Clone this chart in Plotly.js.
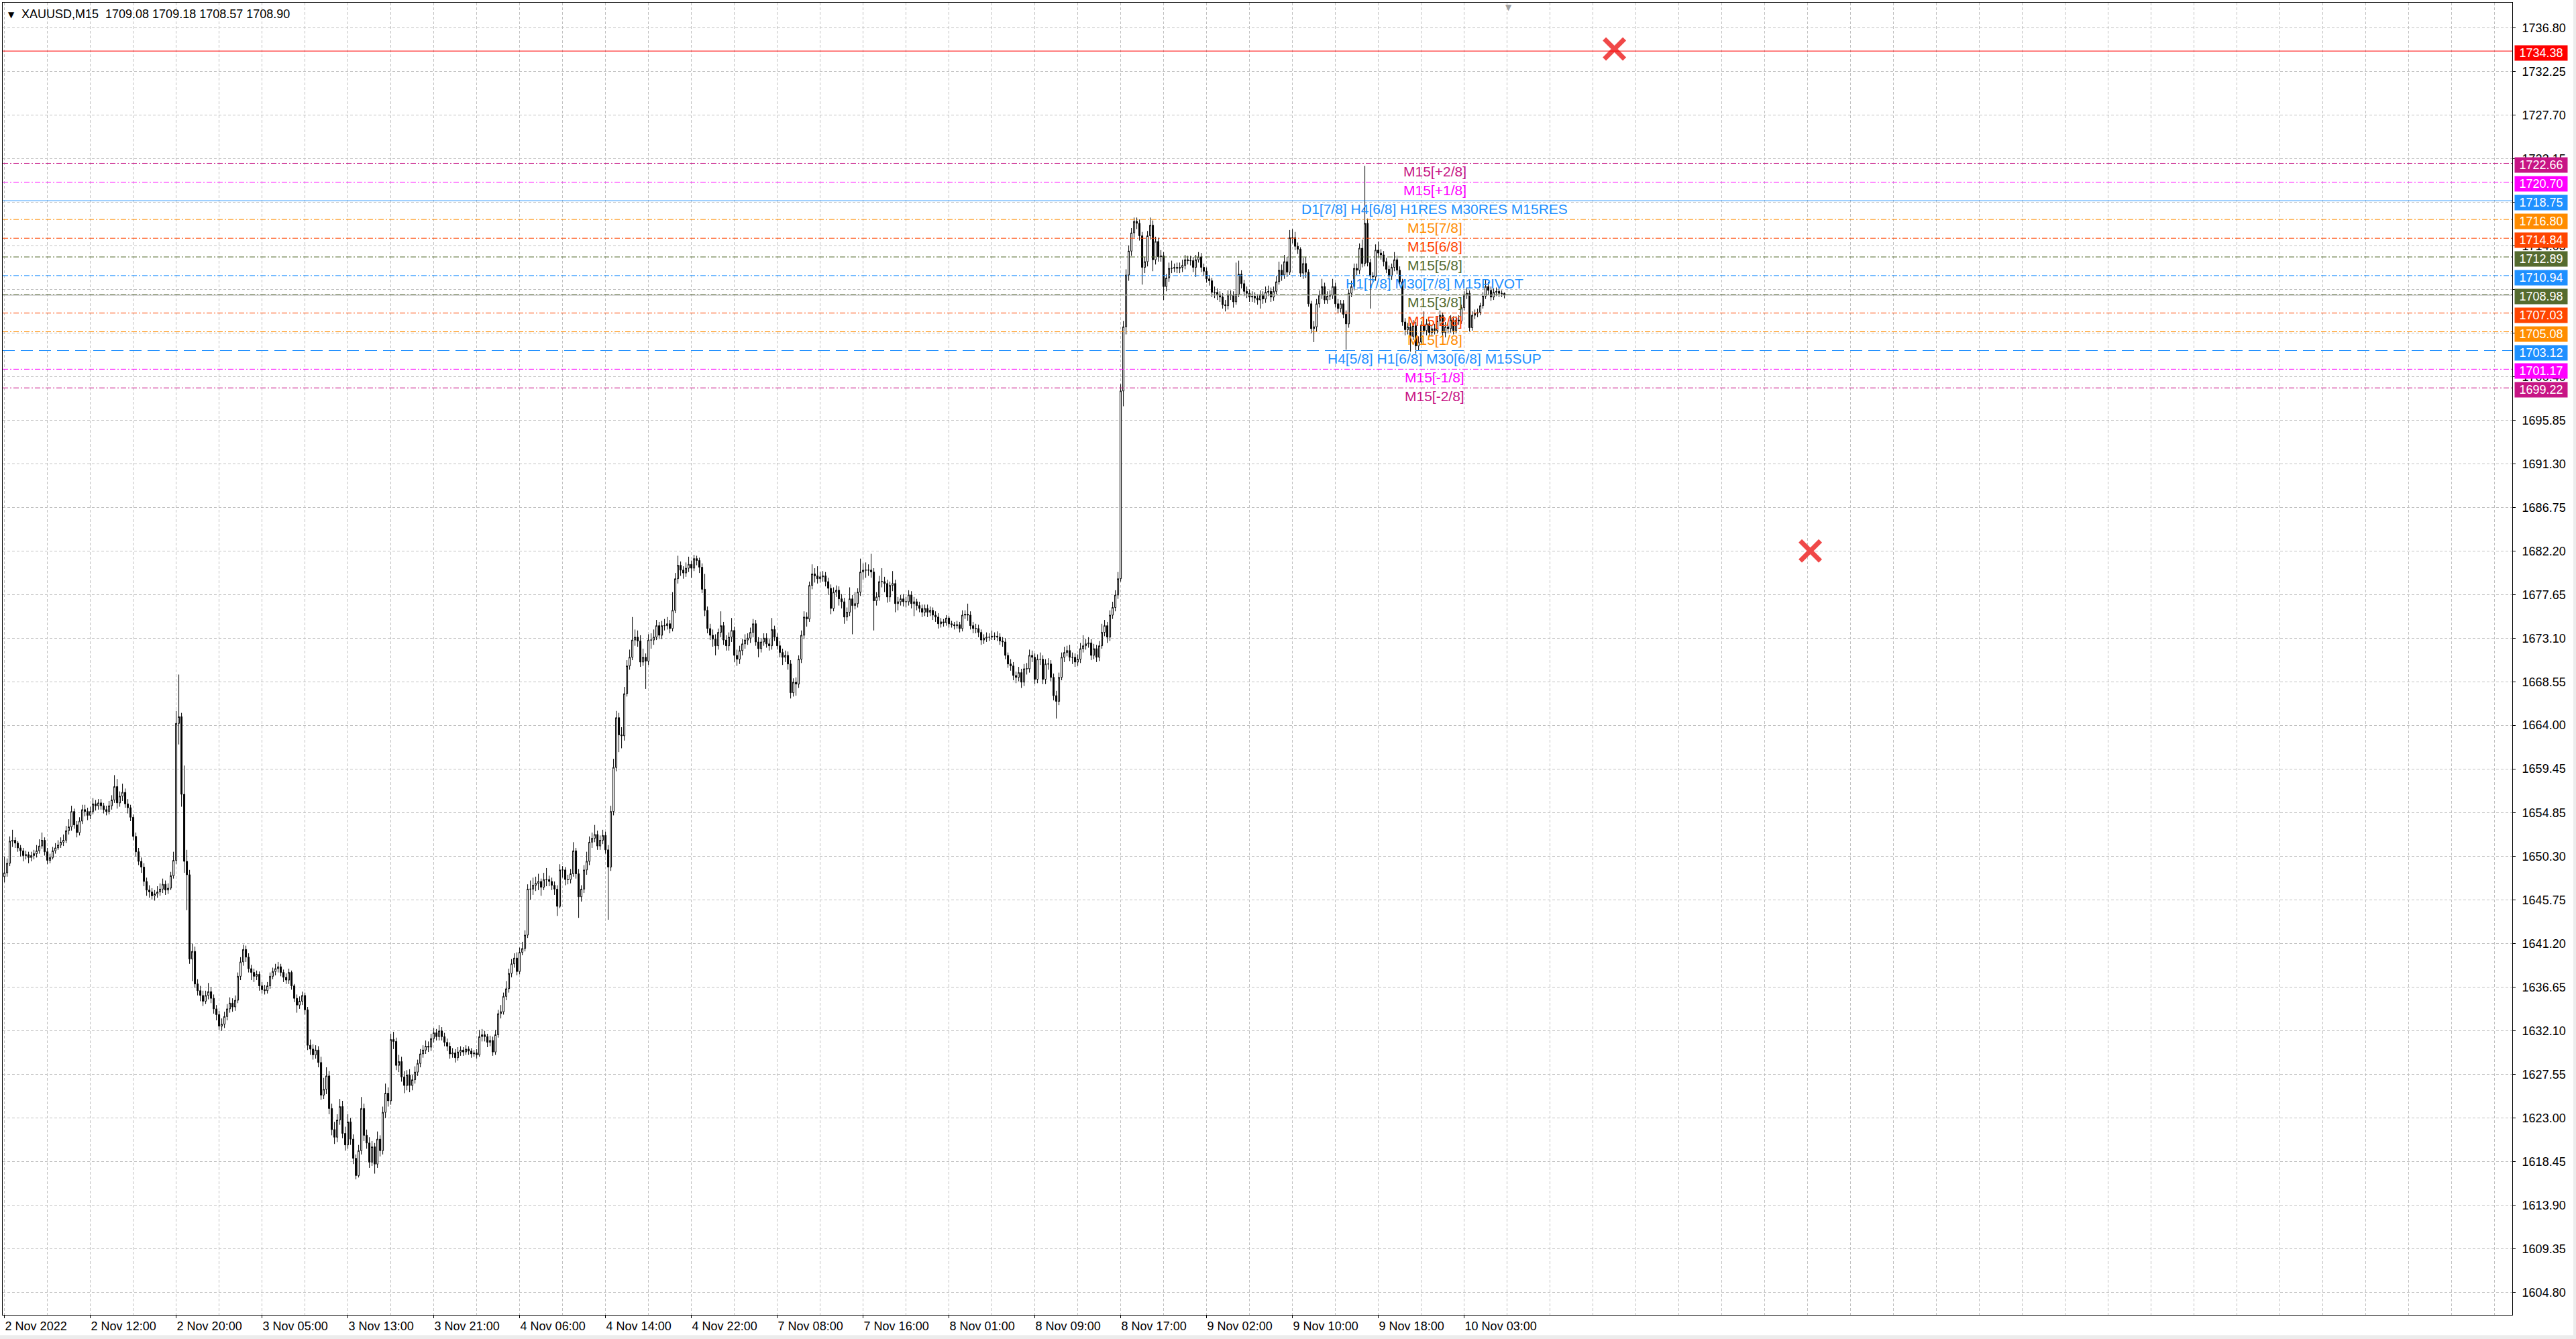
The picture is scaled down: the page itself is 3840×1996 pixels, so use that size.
<!DOCTYPE html>
<html><head><meta charset="utf-8">
<script src="https://cdn.plot.ly/plotly-3.0.1.min.js"></script>
<style>html,body{margin:0;padding:0;background:#fff;}#chart{width:3840px;height:1996px;}</style>
</head><body><div id="chart"></div>
<script>
const barOpen = [
1648.2,1648.6,1649.6,1651.9,1652.0,1651.7,1651.2,1650.9,1650.4,1650.5,
1650.2,1650.4,1650.6,1650.9,1651.4,1652.0,1650.8,1649.9,1650.2,1650.9,
1651.2,1651.5,1651.8,1652.0,1653.0,1653.4,1655.0,1653.6,1652.8,1654.0,
1655.2,1655.0,1654.6,1655.0,1655.8,1655.6,1655.9,1655.6,1655.2,1655.0,
1655.6,1656.2,1657.6,1655.9,1656.6,1657.0,1655.8,1655.4,1654.4,1652.4,
1650.8,1649.8,1649.2,1647.7,1646.8,1646.6,1646.2,1646.4,1646.6,1646.9,
1647.4,1646.8,1647.0,1648.3,1649.9,1664.2,1664.9,1656.8,1649.8,1648.4,
1639.6,1640.4,1637.0,1636.3,1635.8,1635.2,1635.8,1636.2,1635.5,1634.4,
1633.8,1632.6,1632.8,1633.6,1634.4,1635.0,1634.6,1635.3,1637.8,1639.3,
1640.6,1639.8,1638.6,1638.2,1637.8,1638.0,1636.8,1636.4,1636.3,1636.8,
1637.8,1638.3,1638.6,1638.8,1638.2,1637.7,1637.4,1638.2,1636.8,1635.5,
1634.8,1635.2,1635.8,1634.3,1630.6,1630.2,1629.6,1630.1,1628.8,1625.4,
1626.0,1627.4,1624.0,1621.8,1621.0,1622.8,1624.2,1621.4,1620.2,1622.6,
1620.8,1618.8,1617.0,1619.6,1624.0,1621.2,1620.4,1618.4,1620.0,1618.2,
1620.8,1619.6,1623.6,1625.6,1624.8,1631.2,1631.0,1628.5,1628.9,1627.3,
1626.4,1627.5,1626.4,1627.0,1627.8,1628.7,1629.7,1630.1,1630.5,1630.4,
1631.3,1631.9,1631.5,1632.1,1631.5,1630.9,1630.5,1629.7,1629.8,1629.3,
1629.9,1630.1,1629.9,1630.2,1630.0,1629.7,1629.8,1629.6,1631.5,1631.7,
1631.5,1630.9,1631.1,1629.9,1631.7,1633.9,1634.1,1635.7,1636.5,1638.1,
1639.1,1639.7,1638.3,1640.3,1640.7,1642.1,1646.9,1646.9,1647.3,1647.5,
1647.7,1647.1,1647.9,1647.9,1647.7,1647.3,1646.9,1645.1,1648.9,1648.9,
1647.9,1647.9,1648.5,1650.9,1648.5,1646.1,1646.9,1648.9,1649.8,1651.8,
1652.2,1652.6,1651.4,1652.0,1652.5,1651.0,1649.2,1655.0,1659.6,1664.8,
1663.0,1662.9,1667.3,1670.2,1671.1,1672.9,1673.2,1672.8,1670.6,1671.1,
1670.7,1672.9,1672.9,1673.2,1674.4,1673.4,1674.4,1674.4,1674.6,1674.1,
1676.0,1679.3,1680.7,1680.2,1679.9,1680.4,1680.8,1680.4,1681.4,1681.2,
1680.5,1678.2,1676.0,1674.1,1673.4,1673.0,1672.3,1673.7,1674.4,1672.9,
1672.3,1673.2,1673.9,1671.3,1670.9,1671.8,1672.5,1672.9,1673.1,1673.7,
1674.6,1672.7,1672.0,1672.7,1673.1,1672.5,1672.3,1674.0,1673.2,1672.3,
1671.6,1671.1,1671.3,1670.4,1667.4,1668.5,1668.3,1670.9,1673.4,1675.3,
1675.1,1678.6,1679.8,1679.6,1679.3,1679.5,1679.6,1679.0,1678.3,1676.2,
1677.9,1678.1,1677.2,1676.9,1675.3,1675.8,1677.2,1676.5,1676.7,1677.9,
1680.0,1680.2,1680.2,1680.2,1680.0,1677.0,1677.4,1679.0,1679.0,1678.8,
1677.4,1678.6,1678.8,1676.7,1676.9,1677.2,1676.9,1676.9,1677.6,1676.7,
1676.9,1676.5,1676.2,1675.8,1676.2,1675.8,1676.0,1675.5,1675.3,1674.6,
1674.8,1674.7,1675.2,1674.6,1674.5,1674.4,1674.5,1674.1,1675.5,1675.6,
1675.5,1674.4,1674.1,1674.1,1673.7,1672.9,1673.1,1673.2,1673.2,1673.3,
1673.3,1673.2,1672.8,1672.7,1671.3,1670.4,1670.2,1669.2,1669.0,1669.5,
1668.5,1669.9,1669.9,1671.3,1671.1,1668.8,1670.9,1670.9,1668.8,1670.4,
1670.4,1669.0,1667.1,1666.5,1669.0,1671.1,1671.6,1671.8,1671.1,1671.1,
1670.6,1670.9,1672.0,1672.3,1672.5,1672.6,1671.3,1672.0,1671.1,1672.3,
1673.7,1674.4,1673.2,1675.5,1676.3,1677.6,1679.3,1698.9,1705.6,1711.0,
1713.5,1715.4,1716.6,1716.4,1715.1,1711.8,1712.4,1715.1,1716.2,1712.6,
1714.5,1712.9,1713.0,1709.8,1710.7,1711.7,1711.7,1711.8,1711.7,1711.8,
1712.0,1712.6,1712.5,1712.5,1711.8,1712.6,1712.9,1711.8,1711.4,1710.6,
1710.4,1709.2,1709.2,1708.9,1708.7,1707.9,1707.8,1708.9,1708.9,1708.2,
1709.0,1711.1,1710.1,1709.3,1709.1,1708.7,1708.8,1708.6,1708.4,1708.9,
1708.5,1709.2,1709.3,1708.7,1709.3,1710.3,1711.5,1711.0,1712.4,1711.3,
1714.9,1714.9,1714.0,1713.7,1711.2,1712.2,1711.3,1708.0,1705.4,1705.6,
1708.0,1708.9,1709.8,1708.4,1708.8,1708.9,1709.8,1708.0,1707.5,1708.0,
1706.9,1705.9,1709.1,1709.8,1711.7,1711.5,1713.8,1712.2,1716.4,1712.3,
1710.9,1710.8,1713.6,1713.3,1713.1,1712.4,1711.6,1710.9,1711.8,1712.6,
1711.5,1710.3,1706.1,1705.3,1705.6,1704.6,1705.7,1703.6,1704.0,1705.8,
1705.2,1705.9,1705.0,1705.4,1705.2,1706.2,1706.8,1705.0,1705.6,1705.4,
1706.3,1705.2,1706.3,1706.2,1707.6,1708.9,1709.1,1705.5,1706.8,1707.0,
1707.1,1707.8,1708.8,1709.8,1709.4,1708.7,1709.2,1709.3,1709.1,1709.08
];
const barHigh = [
1650.3,1650.1,1652.4,1653.1,1652.3,1651.9,1651.5,1651.2,1650.9,1650.8,
1650.8,1651.0,1651.5,1652.1,1652.8,1652.3,1651.2,1650.6,1651.3,1651.7,
1652.0,1652.3,1652.6,1653.5,1654.2,1655.6,1655.3,1654.0,1654.4,1655.7,
1655.7,1655.4,1655.5,1656.4,1656.2,1656.3,1656.3,1655.9,1655.6,1656.1,
1656.7,1658.8,1658.4,1657.1,1657.9,1657.4,1656.3,1655.7,1654.7,1652.8,
1651.2,1650.2,1649.6,1648.1,1647.3,1647.0,1646.8,1647.2,1647.5,1648.0,
1647.8,1647.5,1648.7,1650.8,1665.5,1669.3,1665.3,1659.8,1651.0,1648.9,
1641.2,1640.9,1637.5,1636.8,1636.3,1636.3,1637.1,1636.7,1635.9,1634.8,
1634.2,1633.4,1634.1,1634.9,1635.6,1635.5,1635.8,1638.2,1639.8,1641.1,
1641.0,1640.2,1639.0,1638.6,1638.4,1638.3,1637.2,1636.9,1637.2,1638.2,
1638.7,1639.1,1639.3,1639.1,1638.5,1638.1,1638.6,1638.4,1637.0,1635.9,
1635.7,1636.2,1636.1,1634.6,1631.2,1630.7,1630.6,1630.5,1629.4,1627.2,
1628.3,1627.9,1624.5,1622.6,1623.4,1625.0,1624.8,1622.1,1623.4,1623.0,
1621.3,1619.2,1620.2,1625.2,1624.5,1621.8,1621.0,1620.6,1620.4,1621.6,
1621.2,1624.2,1626.6,1626.2,1631.8,1632.0,1631.4,1629.6,1629.4,1627.9,
1628.0,1628.1,1627.5,1628.4,1629.1,1630.2,1630.6,1631.1,1631.0,1631.8,
1632.4,1632.3,1632.7,1632.5,1631.9,1631.3,1630.9,1630.3,1630.2,1630.4,
1630.5,1630.4,1630.6,1630.5,1630.3,1630.1,1630.2,1632.2,1632.3,1632.1,
1631.8,1631.6,1631.5,1632.2,1634.3,1634.8,1636.1,1637.3,1638.6,1639.6,
1640.2,1640.3,1640.8,1641.4,1642.6,1647.4,1647.8,1648.1,1648.2,1648.5,
1648.0,1648.6,1649.1,1648.3,1648.1,1647.7,1647.3,1649.5,1649.3,1649.2,
1648.4,1649.0,1651.8,1651.2,1649.0,1647.3,1649.4,1650.8,1652.4,1652.8,
1653.6,1653.0,1652.5,1653.1,1652.9,1651.5,1655.6,1660.5,1665.5,1665.3,
1663.8,1668.0,1670.8,1671.9,1675.3,1674.0,1673.9,1673.4,1672.0,1671.5,
1673.5,1673.6,1674.0,1675.0,1674.8,1674.9,1675.1,1675.3,1675.0,1677.9,
1679.9,1681.7,1681.1,1680.6,1681.0,1681.6,1681.2,1681.8,1681.7,1681.5,
1680.9,1679.8,1676.4,1674.6,1674.0,1673.5,1674.1,1675.9,1674.8,1673.4,
1673.7,1675.2,1674.3,1671.9,1672.3,1673.0,1673.5,1673.6,1674.2,1675.1,
1675.0,1673.2,1673.1,1673.6,1673.6,1673.0,1675.2,1674.4,1673.6,1672.8,
1672.0,1671.8,1671.7,1670.8,1668.9,1669.0,1671.3,1673.9,1675.9,1675.8,
1679.0,1680.8,1680.4,1680.6,1680.0,1680.1,1680.0,1679.4,1678.7,1678.4,
1678.6,1678.5,1677.7,1677.3,1676.3,1678.4,1677.6,1677.9,1678.3,1681.4,
1680.9,1681.0,1680.8,1681.9,1680.4,1677.9,1679.6,1680.4,1679.5,1679.2,
1679.0,1680.1,1679.2,1677.4,1677.6,1677.7,1677.4,1678.1,1678.0,1677.4,
1677.2,1676.9,1676.6,1676.6,1676.6,1676.4,1676.3,1675.9,1675.7,1675.2,
1675.1,1675.5,1675.4,1674.9,1674.8,1674.9,1674.8,1676.0,1676.0,1676.7,
1675.9,1674.8,1674.6,1674.5,1674.0,1673.5,1673.7,1673.6,1673.9,1673.7,
1673.8,1673.6,1673.2,1673.1,1671.6,1670.9,1670.6,1669.6,1670.1,1669.9,
1670.4,1670.5,1671.9,1671.8,1671.5,1671.4,1671.6,1671.3,1670.9,1671.0,
1670.8,1669.4,1667.6,1669.5,1671.6,1672.2,1672.3,1672.4,1671.6,1671.5,
1671.4,1672.6,1673.4,1673.0,1673.2,1673.0,1672.5,1672.4,1672.8,1674.6,
1675.0,1674.8,1676.0,1676.9,1678.1,1680.0,1699.6,1706.2,1711.6,1714.1,
1715.9,1717.0,1717.0,1716.8,1715.5,1712.9,1715.6,1717.0,1716.7,1715.0,
1714.9,1713.6,1713.4,1711.1,1712.3,1712.5,1712.2,1712.3,1712.3,1712.6,
1713.1,1713.0,1713.0,1712.9,1713.1,1713.4,1713.3,1712.2,1711.8,1711.0,
1710.7,1709.8,1709.6,1709.3,1709.1,1708.4,1709.4,1709.4,1709.3,1712.3,
1712.5,1711.5,1710.5,1709.8,1709.5,1709.3,1709.2,1709.0,1709.4,1709.3,
1709.8,1709.9,1709.7,1709.8,1710.9,1712.4,1712.1,1713.1,1712.9,1715.7,
1715.8,1715.5,1714.4,1713.9,1712.8,1712.9,1711.6,1708.3,1706.2,1708.5,
1709.4,1710.6,1710.2,1709.3,1709.4,1710.6,1710.2,1708.5,1708.4,1708.4,
1707.3,1709.5,1710.4,1712.2,1712.2,1714.3,1714.7,1722.4,1716.9,1712.7,
1711.3,1714.2,1714.5,1713.7,1713.5,1712.8,1712.0,1712.2,1713.4,1713.0,
1711.9,1710.6,1706.5,1706.0,1706.0,1706.3,1706.1,1704.6,1706.2,1707.2,
1706.4,1706.3,1705.8,1705.9,1706.7,1707.3,1707.1,1706.1,1706.0,1706.8,
1706.7,1706.7,1706.8,1707.9,1709.3,1709.7,1709.4,1707.2,1707.4,1707.5,
1708.1,1709.2,1710.5,1710.3,1709.8,1709.6,1709.7,1709.6,1709.4,1709.18
];
const barLow = [
1647.6,1648.2,1649.3,1651.3,1651.2,1650.8,1650.3,1649.8,1650.0,1649.6,
1649.8,1650.0,1650.2,1650.6,1651.1,1650.4,1649.5,1649.6,1650.0,1650.6,
1651.0,1651.2,1651.4,1651.7,1652.6,1653.0,1653.2,1652.3,1652.5,1653.7,
1654.5,1654.1,1654.2,1654.7,1655.1,1655.2,1655.2,1654.8,1654.6,1654.7,
1655.2,1655.9,1655.3,1655.5,1656.1,1655.4,1654.8,1654.0,1652.0,1650.3,
1649.4,1648.6,1647.2,1646.2,1646.0,1645.8,1645.7,1646.0,1646.2,1646.5,
1646.3,1646.4,1646.8,1648.0,1649.5,1662.0,1655.5,1648.6,1644.7,1639.1,
1637.3,1636.6,1635.8,1635.2,1634.7,1634.9,1635.4,1635.0,1633.9,1633.2,
1632.2,1632.1,1632.4,1633.2,1634.0,1634.1,1634.2,1635.0,1637.4,1638.9,
1639.3,1638.2,1637.4,1637.2,1637.4,1636.3,1636.0,1635.9,1636.0,1636.5,
1637.5,1637.9,1638.2,1637.8,1637.2,1637.0,1637.0,1636.4,1635.1,1634.0,
1634.4,1634.8,1633.8,1630.1,1629.6,1629.1,1629.2,1628.3,1624.9,1625.0,
1625.5,1623.4,1621.2,1620.3,1620.5,1622.3,1620.9,1619.6,1619.8,1620.2,
1618.2,1616.6,1616.8,1619.2,1620.6,1619.8,1617.8,1618.0,1617.2,1617.8,
1619.0,1619.2,1623.0,1624.2,1624.4,1630.2,1628.0,1627.8,1626.8,1625.6,
1625.9,1625.7,1625.9,1626.6,1627.4,1628.3,1629.3,1629.7,1629.9,1630.0,
1630.9,1631.1,1631.1,1631.1,1630.5,1630.0,1629.2,1629.3,1628.8,1629.0,
1629.5,1629.5,1629.6,1629.6,1629.3,1629.4,1629.2,1629.4,1631.0,1631.0,
1630.4,1630.5,1629.5,1629.6,1631.4,1633.4,1633.8,1635.3,1636.1,1637.7,
1638.7,1637.9,1638.0,1640.0,1640.4,1641.8,1645.8,1646.3,1646.7,1646.8,
1646.2,1646.8,1647.2,1647.2,1646.8,1646.3,1644.1,1644.9,1648.1,1647.3,
1647.4,1647.5,1648.2,1648.0,1643.9,1645.6,1646.5,1648.4,1649.4,1651.2,
1651.8,1651.0,1651.0,1651.6,1650.6,1643.7,1648.8,1654.6,1659.2,1661.2,
1661.6,1662.4,1667.0,1669.8,1670.8,1672.3,1672.2,1670.1,1670.2,1667.8,
1670.3,1672.0,1672.4,1672.9,1673.0,1673.0,1673.9,1674.0,1673.6,1673.8,
1675.7,1678.8,1679.6,1679.3,1679.5,1680.0,1679.4,1680.1,1680.7,1679.9,
1677.8,1675.4,1673.6,1672.9,1672.2,1671.3,1671.9,1673.2,1672.4,1671.8,
1671.8,1672.7,1670.6,1670.2,1670.4,1671.3,1672.0,1672.4,1672.6,1673.2,
1672.3,1671.1,1671.6,1672.3,1672.1,1671.8,1671.9,1672.8,1671.9,1671.1,
1670.3,1670.6,1669.8,1666.8,1667.0,1667.1,1667.9,1670.5,1673.0,1674.3,
1674.8,1678.2,1678.9,1678.8,1678.9,1679.0,1678.5,1677.6,1675.6,1675.9,
1677.4,1676.5,1676.2,1674.6,1674.9,1675.4,1673.5,1676.1,1676.3,1677.5,
1679.2,1679.4,1679.6,1679.4,1673.9,1676.5,1677.0,1678.4,1677.9,1676.8,
1676.9,1678.0,1675.8,1676.0,1676.5,1676.4,1676.3,1676.5,1676.2,1675.4,
1676.0,1675.8,1675.3,1675.4,1675.3,1675.4,1675.0,1674.8,1674.1,1674.2,
1674.3,1674.4,1674.2,1674.2,1674.0,1674.1,1673.7,1673.8,1675.1,1674.9,
1674.0,1673.6,1673.6,1673.2,1672.4,1672.5,1672.7,1672.8,1672.9,1672.9,
1672.8,1672.4,1672.2,1670.9,1670.0,1669.7,1668.7,1668.4,1668.6,1667.9,
1668.1,1669.3,1669.5,1670.6,1668.3,1668.4,1670.3,1668.3,1668.3,1669.8,
1668.6,1666.6,1664.7,1666.1,1668.7,1670.6,1671.2,1670.7,1670.4,1670.1,
1670.2,1670.5,1671.6,1671.9,1672.1,1670.8,1670.9,1670.6,1670.7,1672.0,
1673.3,1672.6,1672.8,1675.1,1675.9,1677.2,1679.0,1697.3,1704.8,1710.4,
1713.0,1714.9,1715.8,1714.6,1710.0,1711.2,1711.9,1714.7,1711.4,1712.1,
1712.4,1712.4,1708.4,1709.3,1710.3,1711.2,1711.3,1711.2,1711.2,1711.3,
1711.6,1712.1,1712.0,1711.3,1710.8,1712.3,1711.3,1710.9,1710.2,1709.9,
1708.7,1708.6,1708.4,1708.2,1707.5,1707.2,1707.4,1708.4,1707.6,1707.9,
1708.7,1709.6,1708.8,1708.6,1708.2,1708.2,1708.1,1707.9,1707.5,1708.0,
1708.1,1708.8,1708.2,1708.3,1709.0,1710.0,1710.4,1710.6,1710.8,1711.0,
1714.3,1713.6,1713.2,1710.8,1710.6,1710.7,1707.7,1704.9,1704.0,1705.1,
1707.6,1708.5,1708.0,1708.0,1708.4,1708.5,1707.6,1707.0,1707.1,1706.5,
1703.2,1705.5,1708.7,1709.4,1711.0,1711.1,1711.8,1711.9,1711.9,1707.5,
1710.3,1710.4,1712.8,1712.6,1711.9,1711.2,1710.5,1710.5,1711.4,1711.1,
1709.9,1705.7,1704.7,1704.8,1703.0,1704.2,1702.8,1703.1,1703.7,1704.8,
1704.7,1704.5,1704.6,1704.8,1704.9,1705.8,1704.6,1704.5,1704.9,1705.0,
1704.8,1704.9,1705.8,1705.9,1707.3,1708.5,1705.1,1705.2,1706.4,1706.6,
1706.8,1707.5,1708.5,1708.9,1708.3,1708.4,1708.8,1708.7,1708.7,1708.57
];
const barClose = [
1648.6,1649.6,1651.9,1652.0,1651.7,1651.2,1650.9,1650.4,1650.5,1650.2,
1650.4,1650.6,1650.9,1651.4,1652.0,1650.8,1649.9,1650.2,1650.9,1651.2,
1651.5,1651.8,1652.0,1653.0,1653.4,1655.0,1653.6,1652.8,1654.0,1655.2,
1655.0,1654.6,1655.0,1655.8,1655.6,1655.9,1655.6,1655.2,1655.0,1655.6,
1656.2,1657.6,1655.9,1656.6,1657.0,1655.8,1655.4,1654.4,1652.4,1650.8,
1649.8,1649.2,1647.7,1646.8,1646.6,1646.2,1646.4,1646.6,1646.9,1647.4,
1646.8,1647.0,1648.3,1649.9,1664.2,1664.9,1656.8,1649.8,1648.4,1639.6,
1640.4,1637.0,1636.3,1635.8,1635.2,1635.8,1636.2,1635.5,1634.4,1633.8,
1632.6,1632.8,1633.6,1634.4,1635.0,1634.6,1635.3,1637.8,1639.3,1640.6,
1639.8,1638.6,1638.2,1637.8,1638.0,1636.8,1636.4,1636.3,1636.8,1637.8,
1638.3,1638.6,1638.8,1638.2,1637.7,1637.4,1638.2,1636.8,1635.5,1634.8,
1635.2,1635.8,1634.3,1630.6,1630.2,1629.6,1630.1,1628.8,1625.4,1626.0,
1627.4,1624.0,1621.8,1621.0,1622.8,1624.2,1621.4,1620.2,1622.6,1620.8,
1618.8,1617.0,1619.6,1624.0,1621.2,1620.4,1618.4,1620.0,1618.2,1620.8,
1619.6,1623.6,1625.6,1624.8,1631.2,1631.0,1628.5,1628.9,1627.3,1626.4,
1627.5,1626.4,1627.0,1627.8,1628.7,1629.7,1630.1,1630.5,1630.4,1631.3,
1631.9,1631.5,1632.1,1631.5,1630.9,1630.5,1629.7,1629.8,1629.3,1629.9,
1630.1,1629.9,1630.2,1630.0,1629.7,1629.8,1629.6,1631.5,1631.7,1631.5,
1630.9,1631.1,1629.9,1631.7,1633.9,1634.1,1635.7,1636.5,1638.1,1639.1,
1639.7,1638.3,1640.3,1640.7,1642.1,1646.9,1646.9,1647.3,1647.5,1647.7,
1647.1,1647.9,1647.9,1647.7,1647.3,1646.9,1645.1,1648.9,1648.9,1647.9,
1647.9,1648.5,1650.9,1648.5,1646.1,1646.9,1648.9,1649.8,1651.8,1652.2,
1652.6,1651.4,1652.0,1652.5,1651.0,1649.2,1655.0,1659.6,1664.8,1663.0,
1662.9,1667.3,1670.2,1671.1,1672.9,1673.2,1672.8,1670.6,1671.1,1670.7,
1672.9,1672.9,1673.2,1674.4,1673.4,1674.4,1674.4,1674.6,1674.1,1676.0,
1679.3,1680.7,1680.2,1679.9,1680.4,1680.8,1680.4,1681.4,1681.2,1680.5,
1678.2,1676.0,1674.1,1673.4,1673.0,1672.3,1673.7,1674.4,1672.9,1672.3,
1673.2,1673.9,1671.3,1670.9,1671.8,1672.5,1672.9,1673.1,1673.7,1674.6,
1672.7,1672.0,1672.7,1673.1,1672.5,1672.3,1674.0,1673.2,1672.3,1671.6,
1671.1,1671.3,1670.4,1667.4,1668.5,1668.3,1670.9,1673.4,1675.3,1675.1,
1678.6,1679.8,1679.6,1679.3,1679.5,1679.6,1679.0,1678.3,1676.2,1677.9,
1678.1,1677.2,1676.9,1675.3,1675.8,1677.2,1676.5,1676.7,1677.9,1680.0,
1680.2,1680.2,1680.2,1680.0,1677.0,1677.4,1679.0,1679.0,1678.8,1677.4,
1678.6,1678.8,1676.7,1676.9,1677.2,1676.9,1676.9,1677.6,1676.7,1676.9,
1676.5,1676.2,1675.8,1676.2,1675.8,1676.0,1675.5,1675.3,1674.6,1674.8,
1674.7,1675.2,1674.6,1674.5,1674.4,1674.5,1674.1,1675.5,1675.6,1675.5,
1674.4,1674.1,1674.1,1673.7,1672.9,1673.1,1673.2,1673.2,1673.3,1673.3,
1673.2,1672.8,1672.7,1671.3,1670.4,1670.2,1669.2,1669.0,1669.5,1668.5,
1669.9,1669.9,1671.3,1671.1,1668.8,1670.9,1670.9,1668.8,1670.4,1670.4,
1669.0,1667.1,1666.5,1669.0,1671.1,1671.6,1671.8,1671.1,1671.1,1670.6,
1670.9,1672.0,1672.3,1672.5,1672.6,1671.3,1672.0,1671.1,1672.3,1673.7,
1674.4,1673.2,1675.5,1676.3,1677.6,1679.3,1698.9,1705.6,1711.0,1713.5,
1715.4,1716.6,1716.4,1715.1,1711.8,1712.4,1715.1,1716.2,1712.6,1714.5,
1712.9,1713.0,1709.8,1710.7,1711.7,1711.7,1711.8,1711.7,1711.8,1712.0,
1712.6,1712.5,1712.5,1711.8,1712.6,1712.9,1711.8,1711.4,1710.6,1710.4,
1709.2,1709.2,1708.9,1708.7,1707.9,1707.8,1708.9,1708.9,1708.2,1709.0,
1711.1,1710.1,1709.3,1709.1,1708.7,1708.8,1708.6,1708.4,1708.9,1708.5,
1709.2,1709.3,1708.7,1709.3,1710.3,1711.5,1711.0,1712.4,1711.3,1714.9,
1714.9,1714.0,1713.7,1711.2,1712.2,1711.3,1708.0,1705.4,1705.6,1708.0,
1708.9,1709.8,1708.4,1708.8,1708.9,1709.8,1708.0,1707.5,1708.0,1706.9,
1705.9,1709.1,1709.8,1711.7,1711.5,1713.8,1712.2,1716.4,1712.3,1710.9,
1710.8,1713.6,1713.3,1713.1,1712.4,1711.6,1710.9,1711.8,1712.6,1711.5,
1710.3,1706.1,1705.3,1705.6,1704.6,1705.7,1703.6,1704.0,1705.8,1705.2,
1705.9,1705.0,1705.4,1705.2,1706.2,1706.8,1705.0,1705.6,1705.4,1706.3,
1705.2,1706.3,1706.2,1707.6,1708.9,1709.1,1705.5,1706.8,1707.0,1707.1,
1707.8,1708.8,1709.8,1709.4,1708.7,1709.2,1709.3,1709.1,1709.08,1708.90
];

const xLabels = ['2 Nov 2022','2 Nov 12:00','2 Nov 20:00','3 Nov 05:00','3 Nov 13:00','3 Nov 21:00',
  '4 Nov 06:00','4 Nov 14:00','4 Nov 22:00','7 Nov 08:00','7 Nov 16:00','8 Nov 01:00',
  '8 Nov 09:00','8 Nov 17:00','9 Nov 02:00','9 Nov 10:00','9 Nov 18:00','10 Nov 03:00'];
const yTicks = [1736.80,1732.25,1727.70,1723.15,1718.60,1714.05,1709.50,1704.95,1700.40,1695.85,
  1691.30,1686.75,1682.20,1677.65,1673.10,1668.55,1664.00,1659.45,1654.85,1650.30,1645.75,
  1641.20,1636.65,1632.10,1627.55,1623.00,1618.45,1613.90,1609.35,1604.80];

const levelPrices = [1734.38,1722.66,1720.70,1718.75,1716.80,1714.84,1712.89,1710.94,1708.98,1707.03,1705.08,1703.12,1701.17,1699.22];
const levelColors = ['#ff0000','#c71585','#ff00ff','#1e90ff','#ff8c00','#ff4500','#556b2f','#1e90ff','#556b2f','#ff4500','#ff8c00','#1e90ff','#ff00ff','#c71585'];
const levelNames = ['','M15[+2/8]','M15[+1/8]','D1[7/8] H4[6/8] H1RES M30RES M15RES','M15[7/8]','M15[6/8]','M15[5/8]',
  'H1[7/8] M30[7/8] M15PIVOT','M15[3/8]','M15[2/8]','M15[1/8]','H4[5/8] H1[6/8] M30[6/8] M15SUP','M15[-1/8]','M15[-2/8]'];
const levelStyles = ['solid','dashdot','dashdot','solid','dashdot','dashdot','dashdot','dashdot','dashdot','dashdot','dashdot','dash','dashdot','dashdot'];

const crossBars = [600, 673];
const crossPrices = [1734.6, 1682.2];

const symbolName = 'XAUUSD,M15';

// ---- build ----
const idx = barClose.map((_, i) => i);
const BAR_LAST = barClose.length - 1;
const labelStep = 32, gridStep = 16;
const tickVals = xLabels.map((_, i) => i * labelStep);
const minorVals = [];
for (let v = gridStep; v <= 928; v += gridStep) minorVals.push(v);

const dashMap = { solid: 'solid', dashdot: '8px,3px,2px,3px', dash: '18px,9px' };
const FONT = 'Liberation Sans, Arial, sans-serif';

// tick labels fully covered by the price boxes in the reference are left blank
const coveredTicks = [1718.60, 1709.50, 1704.95];
const yTickText = yTicks.map(v => coveredTicks.includes(v) ? '' : v.toFixed(2));

const shapes = levelPrices.map((p, i) => ({
  type: 'line', xref: 'paper', x0: 0, x1: 1, yref: 'y', y0: p, y1: p, layer: 'above',
  line: { color: levelColors[i], width: 1, dash: dashMap[levelStyles[i]] }
}));
shapes.push({ type: 'line', xref: 'paper', x0: 0, x1: 1, yref: 'y', y0: barClose[BAR_LAST], y1: barClose[BAR_LAST],
  layer: 'above', line: { color: '#a8a8a8', width: 1 } });
// window rim (right / bottom)
shapes.push({ type: 'rect', xref: 'paper', yref: 'paper', x0: 1.0243, x1: 1.03, y0: -0.02, y1: 1.01,
  fillcolor: '#ececec', line: { width: 0 }, layer: 'below' });
shapes.push({ type: 'rect', xref: 'paper', yref: 'paper', x0: -0.01, x1: 1.03, y0: -0.02, y1: -0.0155,
  fillcolor: '#ececec', line: { width: 0 }, layer: 'below' });

const annotations = [];
levelNames.forEach((t, i) => {
  if (!t) return;
  annotations.push({ x: 533, y: levelPrices[i], xref: 'x', yref: 'y', text: t, showarrow: false,
    xanchor: 'center', yanchor: 'middle', yshift: -12,
    font: { family: FONT, size: 21, color: levelColors[i] } });
});
levelPrices.forEach((p, i) => {
  annotations.push({ x: 1, y: p, xref: 'paper', yref: 'y', text: p.toFixed(2), showarrow: false,
    xanchor: 'left', yanchor: 'middle', xshift: 3, yshift: -3,
    bgcolor: levelColors[i], width: 76, height: 20, borderpad: 1, align: 'center',
    font: { family: FONT, size: 18, color: '#ffffff' } });
});
annotations.push({ x: 0, y: 1, xref: 'paper', yref: 'paper', xanchor: 'left', yanchor: 'top',
  xshift: 6, yshift: -9, showarrow: false, text: '\u25BC', font: { family: 'DejaVu Sans', size: 12, color: '#000' } });
annotations.push({ x: 0, y: 1, xref: 'paper', yref: 'paper', xanchor: 'left', yanchor: 'top',
  xshift: 26, yshift: -5, showarrow: false,
  text: symbolName + '\u00a0\u00a0' + [barOpen[BAR_LAST], barHigh[BAR_LAST], barLow[BAR_LAST], barClose[BAR_LAST]].map(v => v.toFixed(2)).join(' '),
  font: { family: FONT, size: 18, color: '#000' } });
// chart-shift marker just under the top border
annotations.push({ x: BAR_LAST + 1.5, y: 1, xref: 'x', yref: 'paper', xanchor: 'center', yanchor: 'top',
  yshift: 2, showarrow: false, text: '\u25BC', font: { family: 'DejaVu Sans', size: 12, color: '#a0a0a0' } });

const traces = [
  { type: 'candlestick', x: idx, open: barOpen, high: barHigh, low: barLow, close: barClose,
    increasing: { line: { color: '#000000', width: 1 }, fillcolor: '#ffffff' },
    decreasing: { line: { color: '#000000', width: 1 }, fillcolor: '#000000' },
    whiskerwidth: 0, hoverinfo: 'skip', showlegend: false },
  { type: 'scatter', mode: 'markers', x: crossBars, y: crossPrices, hoverinfo: 'skip', showlegend: false,
    marker: { symbol: 'x-thin', size: 30, color: '#f04848', line: { color: '#f04848', width: 7 } } }
];

const gridStyle = { gridcolor: '#c0c0c0', griddash: '4px,3px', gridwidth: 1 };
const layout = {
  width: 3840, height: 1996, autosize: false,
  margin: { l: 4, r: 95, t: 4, b: 36, pad: 0 },
  paper_bgcolor: '#ffffff', plot_bgcolor: '#ffffff',
  showlegend: false, hovermode: false,
  font: { family: FONT, size: 18, color: '#000' },
  xaxis: Object.assign({
    range: [-0.65, 934.6], tickmode: 'array', tickvals: tickVals, ticktext: xLabels,
    ticks: 'outside', ticklen: 4, tickcolor: '#000', ticklabelposition: 'outside right',
    showgrid: true, zeroline: false, showline: true, linecolor: '#000', linewidth: 1, mirror: true,
    rangeslider: { visible: false }, fixedrange: true,
    tickfont: { family: FONT, size: 18, color: '#000' },
    minor: Object.assign({ tickmode: 'array', tickvals: minorVals, showgrid: true, ticks: '' }, gridStyle)
  }, gridStyle),
  yaxis: Object.assign({
    side: 'right', range: [1602.46, 1739.43], tickmode: 'array', tickvals: yTicks,
    ticktext: yTickText, ticks: 'outside', ticklen: 4, tickcolor: '#000',
    ticklabelstandoff: 6,
    showgrid: true, zeroline: false, showline: true, linecolor: '#000', linewidth: 1, mirror: true,
    fixedrange: true, tickfont: { family: FONT, size: 18, color: '#000' }
  }, gridStyle),
  shapes: shapes,
  annotations: annotations
};

Plotly.newPlot('chart', traces, layout, { staticPlot: true, displayModeBar: false });
</script>
</body></html>
